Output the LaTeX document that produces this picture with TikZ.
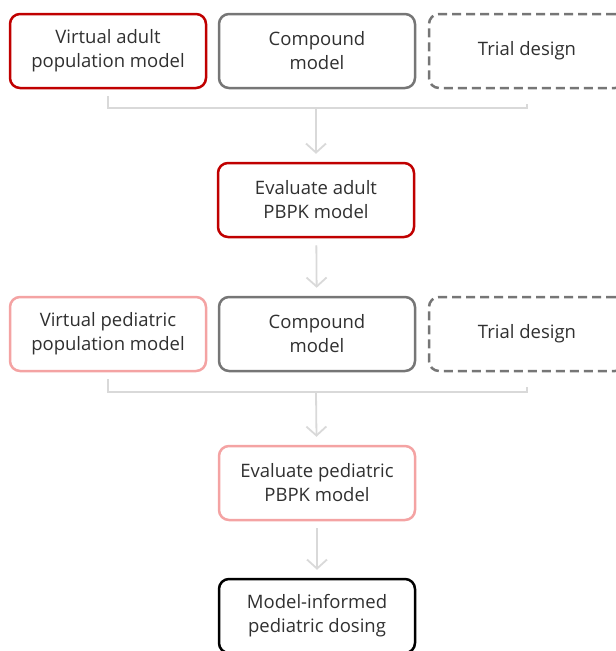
\documentclass[tikz,border=0pt]{standalone}
\usepackage{fontspec}
\setmainfont{Open Sans}
\usetikzlibrary{arrows.meta}

\definecolor{adultred}{HTML}{C00000}
\definecolor{pedred}{HTML}{F4A3A3}
\definecolor{boxgray}{HTML}{767676}
\definecolor{linkgray}{HTML}{D9D9D9}
\definecolor{textgray}{HTML}{303030}

\tikzset{
  box/.style={rectangle, rounded corners=10pt, line width=2.5pt, minimum width=196pt,
    minimum height=74pt, align=center, text=textgray, fill=white,
    font=\fontsize{18.5}{24}\selectfont},
  link/.style={draw=linkgray, line width=1.8pt},
  arrow/.style={link, -{Straight Barb[length=9pt,width=20pt,line width=1.8pt]}}
}

\begin{document}
\begin{tikzpicture}[x=1pt,y=-1pt]
  \useasboundingbox (0,0) rectangle (616,651);

      \begin{scope}[every node/.style={box}]
        \node[draw=adultred] (1) at (108,51)  {Virtual adult\\population model};
        \node[draw=boxgray]  (2) at (317,51)  {Compound\\model};
        \node[draw=boxgray, dash pattern=on 9pt off 5pt] (3) at (527,51) {Trial design};
        \node[draw=adultred] (4) at (316,200) {Evaluate adult\\PBPK model};
        \node[draw=pedred]   (5) at (108,334) {Virtual pediatric\\population model};
        \node[draw=boxgray]  (6) at (317,334) {Compound\\model};
        \node[draw=boxgray, dash pattern=on 9pt off 5pt] (7) at (527,334) {Trial design};
        \node[draw=pedred]   (8) at (317,483) {Evaluate pediatric\\PBPK model};
        \node[draw=black]    (9) at (317,616) {Model-informed\\pediatric dosing};
      \end{scope}

      \coordinate (j1) at (316,108);
      \coordinate (j2) at (316,392);

      \begin{scope}[shorten >=8pt]
        \draw[link] ([yshift=-7pt]1.south) |- (j1) -| ([yshift=-7pt]3.south);
        \draw[arrow] (j1) -- (4);
        \draw[arrow, shorten <=7pt] (4) -- (6);
        \draw[link] ([yshift=-7pt]5.south) |- (j2) -| ([yshift=-7pt]7.south);
        \draw[arrow] (j2) -- (8);
        \draw[arrow, shorten <=7pt] (8) -- (9);
      \end{scope}

    \end{tikzpicture}
\end{document}
